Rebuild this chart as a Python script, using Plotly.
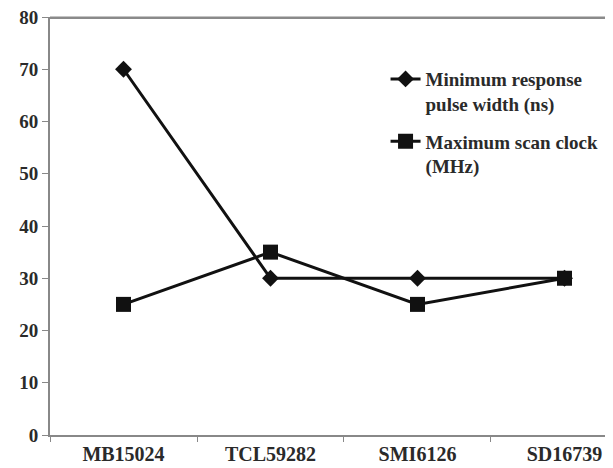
import plotly.graph_objects as go

categories = ["MB15024", "TCL59282", "SMI6126", "SD16739"]
pulse_width = [70, 30, 30, 30]
scan_clock = [25, 35, 25, 30]
y_ticks = [0, 10, 20, 30, 40, 50, 60, 70, 80]

font_fam = "Liberation Serif"
txt_col = "#2a2a2a"

fig = go.Figure()
fig.add_trace(go.Scatter(
    x=categories, y=pulse_width, mode="lines+markers",
    name="Minimum response<br>pulse width (ns)",
    line=dict(color="#111111", width=3),
    marker=dict(symbol="diamond", size=13, color="#111111"),
    legendgroup="a",
))
fig.add_trace(go.Scatter(
    x=categories, y=scan_clock, mode="lines+markers",
    name="Maximum scan clock<br>(MHz)",
    line=dict(color="#111111", width=3),
    marker=dict(symbol="square", size=15, color="#111111"),
    legendgroup="b",
))

# top frame line of the plot area
fig.add_shape(type="line", xref="paper", yref="paper", x0=0, x1=1, y0=0.998, y1=0.998,
              line=dict(color="#8a8a8a", width=2.5), layer="above")

fig.update_layout(
    width=605, height=460,
    margin=dict(l=42, r=0, t=9, b=33, autoexpand=False),
    paper_bgcolor="white", plot_bgcolor="white",
    font=dict(family=font_fam, color=txt_col, size=19, weight="bold"),
    showlegend=True,
    legend=dict(
        x=0.596, y=0.897, xanchor="left", yanchor="top",
        bgcolor="rgba(0,0,0,0)", valign="top",
        font=dict(family=font_fam, size=19, color=txt_col, weight="bold"),
        tracegroupgap=10, itemwidth=30,
    ),
    xaxis=dict(
        type="category", range=[-0.5, 3.33], automargin=False,
        showgrid=False, showline=True, linecolor="#888888", linewidth=2,
        ticks="outside", tickson="boundaries", ticklen=5,
        tickcolor="#888888", ticklabeloverflow="allow",
        tickfont=dict(family=font_fam, size=20, color=txt_col, weight="bold"),
        zeroline=False,
    ),
    yaxis=dict(
        range=[0, 80], tickvals=y_ticks, showgrid=False, showline=True,
        automargin=False, ticklabeloverflow="allow",
        linecolor="#888888", linewidth=2, ticks="outside", ticklen=6,
        tickcolor="#888888",
        tickfont=dict(family=font_fam, size=19, color=txt_col, weight="bold"),
        zeroline=False,
    ),
)

fig.write_html("out.html")
